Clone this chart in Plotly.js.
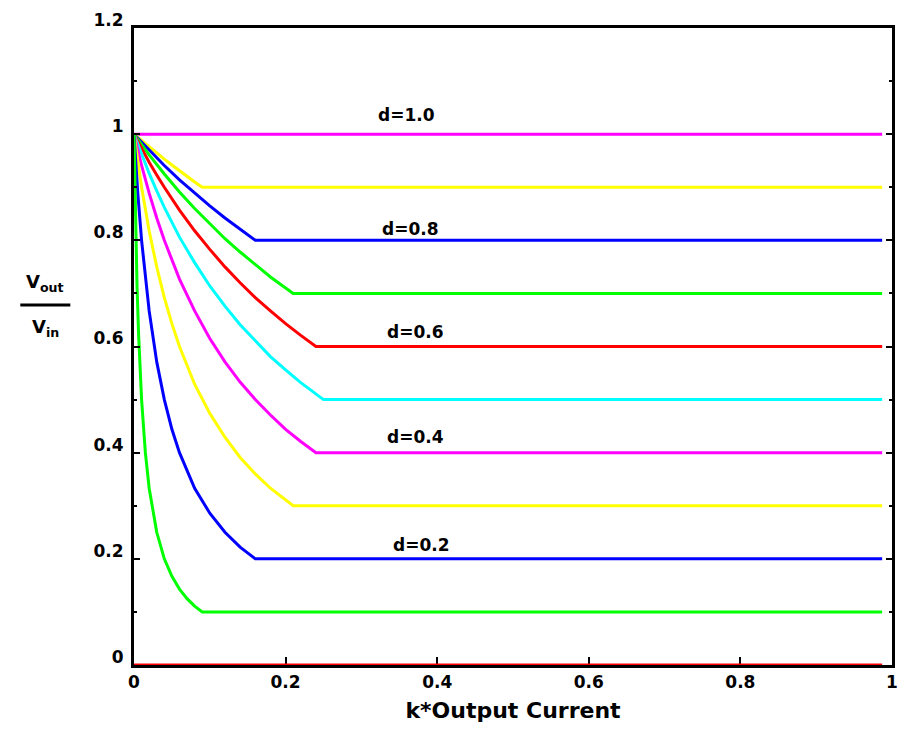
<!DOCTYPE html>
<html>
<head>
<meta charset="utf-8">
<script src="https://cdn.plot.ly/plotly-3.0.1.min.js"></script>
<style>html,body{margin:0;padding:0;background:#fff;}#chart{width:897px;height:730px;}</style>
</head>
<body>
<div id="chart"></div>
<script>
// duty-cycle curves: normalized output current (x) vs Vout/Vin (y)
const xEnd = 0.987;
const d10x = [0, xEnd];
const d10y = [1.0, 1.0];
const d09x = [0, 0.01, 0.02, 0.03, 0.04, 0.05, 0.06, 0.07, 0.08, 0.09, xEnd];
const d09y = [1.0, 0.988, 0.976, 0.964, 0.953, 0.942, 0.931, 0.920, 0.910, 0.900, 0.900];
const d08x = [0, 0.01, 0.02, 0.04, 0.06, 0.08, 0.10, 0.12, 0.14, 0.16, xEnd];
const d08y = [1.0, 0.985, 0.970, 0.941, 0.914, 0.889, 0.865, 0.842, 0.821, 0.800, 0.800];
const d07x = [0, 0.01, 0.02, 0.04, 0.06, 0.08, 0.10, 0.12, 0.14, 0.16, 0.18, 0.21, xEnd];
const d07y = [1.0, 0.980, 0.961, 0.925, 0.891, 0.860, 0.831, 0.803, 0.778, 0.754, 0.731, 0.700, 0.700];
const d06x = [0, 0.01, 0.02, 0.03, 0.04, 0.06, 0.08, 0.10, 0.12, 0.14, 0.16, 0.18, 0.20, 0.22, 0.24, xEnd];
const d06y = [1.0, 0.973, 0.947, 0.923, 0.900, 0.857, 0.818, 0.783, 0.750, 0.720, 0.692, 0.667, 0.643, 0.621, 0.600, 0.600];
const d05x = [0, 0.01, 0.02, 0.03, 0.04, 0.06, 0.08, 0.10, 0.12, 0.14, 0.16, 0.18, 0.20, 0.22, 0.25, xEnd];
const d05y = [1.0, 0.962, 0.926, 0.893, 0.862, 0.806, 0.758, 0.714, 0.676, 0.641, 0.610, 0.581, 0.556, 0.532, 0.500, 0.500];
const d04x = [0, 0.005, 0.01, 0.02, 0.03, 0.04, 0.06, 0.08, 0.10, 0.12, 0.14, 0.16, 0.18, 0.20, 0.22, 0.24, xEnd];
const d04y = [1.0, 0.970, 0.941, 0.889, 0.842, 0.800, 0.727, 0.667, 0.615, 0.571, 0.533, 0.500, 0.471, 0.444, 0.421, 0.400, 0.400];
const d03x = [0, 0.005, 0.01, 0.02, 0.03, 0.04, 0.05, 0.06, 0.08, 0.10, 0.12, 0.14, 0.16, 0.18, 0.21, xEnd];
const d03y = [1.0, 0.947, 0.900, 0.818, 0.750, 0.692, 0.643, 0.600, 0.529, 0.474, 0.429, 0.391, 0.360, 0.333, 0.300, 0.300];
const d02x = [0, 0.0025, 0.005, 0.01, 0.015, 0.02, 0.03, 0.04, 0.05, 0.06, 0.08, 0.10, 0.12, 0.14, 0.16, xEnd];
const d02y = [1.0, 0.941, 0.889, 0.800, 0.727, 0.667, 0.571, 0.500, 0.444, 0.400, 0.333, 0.286, 0.250, 0.222, 0.200, 0.200];
const d01x = [0, 0.001, 0.002, 0.004, 0.006, 0.008, 0.01, 0.015, 0.02, 0.03, 0.04, 0.05, 0.06, 0.07, 0.08, 0.09, xEnd];
const d01y = [1.0, 0.909, 0.833, 0.714, 0.625, 0.556, 0.500, 0.400, 0.333, 0.250, 0.200, 0.167, 0.143, 0.125, 0.111, 0.100, 0.100];
const d00x = [0, xEnd];
const d00y = [0, 0];

const seriesX = [d10x, d09x, d08x, d07x, d06x, d05x, d04x, d03x, d02x, d01x, d00x];
const seriesY = [d10y, d09y, d08y, d07y, d06y, d05y, d04y, d03y, d02y, d01y, d00y];
const seriesColors = ['#ff00ff', '#ffff00', '#0000ff', '#00ff00', '#ff0000', '#00ffff', '#ff00ff', '#ffff00', '#0000ff', '#00ff00', '#ff0000'];

const xTickVals = [0, 0.2, 0.4, 0.6, 0.8, 1];
const xTickText = ['0', '0.2', '0.4', '0.6', '0.8', '1'];
const yTickVals = [0, 0.2, 0.4, 0.6, 0.8, 1, 1.2];
const yTickText = ['0', '0.2', '0.4', '0.6', '0.8', '1', '1.2'];

const labelText = ['d=1.0', 'd=0.8', 'd=0.6', 'd=0.4', 'd=0.2'];
const labelX = [0.360, 0.365, 0.371, 0.371, 0.379];
const labelY = [1.036, 0.821, 0.627, 0.430, 0.226];

const F = 'DejaVu Sans, Liberation Sans, sans-serif';

const traces = seriesX.map((xs, i) => ({
  x: xs, y: seriesY[i], type: 'scatter', mode: 'lines',
  line: {color: seriesColors[i], width: 3}, cliponaxis: false,
  hoverinfo: 'skip', showlegend: false
}));

const annotations = labelText.map((t, i) => ({
  x: labelX[i], y: labelY[i], xref: 'x', yref: 'y', text: t, showarrow: false,
  xanchor: 'center', yanchor: 'middle',
  font: {family: F, size: 17, color: '#000', weight: 'bold'}
}));
annotations.push(
  {x: -0.117, y: 0.600, xref: 'paper', yref: 'paper', text: 'V<sub>out</sub>', showarrow: false,
   xanchor: 'center', yanchor: 'middle', font: {family: F, size: 18, color: '#000', weight: 'bold'}},
  {x: -0.117, y: 0.529, xref: 'paper', yref: 'paper', text: 'V<sub>in</sub>', showarrow: false,
   xanchor: 'center', yanchor: 'middle', font: {family: F, size: 18, color: '#000', weight: 'bold'}}
);

const layout = {
  width: 897, height: 730,
  margin: {l: 134, r: 5, t: 28, b: 65, pad: 0},
  paper_bgcolor: '#fff', plot_bgcolor: '#fff',
  showlegend: false,
  xaxis: {
    range: [0, 1], showgrid: false, zeroline: false,
    showline: true, linecolor: '#000', linewidth: 3, mirror: true,
    ticks: 'inside', ticklen: 8, tickwidth: 2, tickcolor: '#000',
    tickvals: xTickVals, ticktext: xTickText, ticklabelstandoff: 0,
    ticklabeloverflow: 'allow',
    tickfont: {family: F, size: 17, color: '#000', weight: 'bold'},
    layer: 'below traces',
    title: {text: 'k*Output Current', standoff: 12,
            font: {family: F, size: 22, color: '#000', weight: 'bold'}}
  },
  yaxis: {
    range: [0, 1.2], showgrid: false, zeroline: false,
    showline: true, linecolor: '#000', linewidth: 3, mirror: 'allticks',
    ticks: 'inside', ticklen: 6, tickwidth: 2, tickcolor: '#000',
    tickvals: yTickVals, ticktext: yTickText, ticklabelshift: -8, ticklabelstandoff: 4,
    ticklabeloverflow: 'allow',
    tickfont: {family: F, size: 17, color: '#000', weight: 'bold'},
    minor: {dtick: 0.1, ticks: 'inside', ticklen: 3, tickwidth: 2, tickcolor: '#000', showgrid: false}
  },
  shapes: [
    {type: 'line', xref: 'paper', yref: 'paper', x0: -0.150, x1: -0.084, y0: 0.565, y1: 0.565,
     line: {color: '#000', width: 3}}
  ],
  annotations: annotations
};

Plotly.newPlot('chart', traces, layout, {displayModeBar: false, staticPlot: true});
</script>
</body>
</html>
